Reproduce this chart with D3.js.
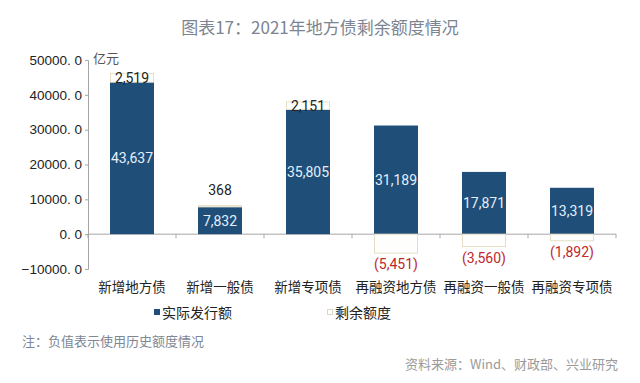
<!DOCTYPE html>
<html><head><meta charset="utf-8">
<script src="https://cdn.jsdelivr.net/npm/d3@7"></script>
<style>
body{margin:0;background:#fff;}
svg{display:block;}
</style></head>
<body>
<svg id="c" width="640" height="383"></svg>
<script>
const categories = ["新增地方债","新增一般债","新增专项债","再融资地方债","再融资一般债","再融资专项债"];
const issued = [43637, 7832, 35805, 31189, 17871, 13319];
const remaining = [2519, 368, 2151, -5451, -3560, -1892];
const yTicks = [-10000, 0, 10000, 20000, 30000, 40000, 50000];
const seriesNames = ["实际发行额","剩余额度"];

const svg = d3.select("#c");
const cjk = "'Noto Sans CJK SC','Noto Sans',sans-serif";
const num = "Roboto,'Noto Sans',sans-serif";
const blue = "#1f4e79";

const x = d3.scaleBand().domain(categories).range([88, 616]).paddingInner(0.5).paddingOuter(0.25);
const y = d3.scaleLinear().domain([-10000, 50000]).range([269, 60]);

// title
svg.append("text").attr("x", 320).attr("y", 34).attr("text-anchor","middle")
  .attr("font-family", cjk).attr("font-size", 17).attr("fill", "#7b8591")
  .text("图表17：2021年地方债剩余额度情况");

// y axis
const yAxis = d3.axisLeft(y).tickValues(yTicks).tickSize(3)
  .tickFormat(d => d3.format(".1f")(d).replace(".", ". ").replace("-", "−"));
const ga = svg.append("g").attr("transform","translate(88,0)").call(yAxis);
ga.select(".domain").attr("stroke","#a6a6a6");
ga.selectAll(".tick line").attr("stroke","#a6a6a6");
ga.selectAll(".tick text").attr("font-family","'Liberation Sans',Arial,sans-serif")
  .attr("font-size", 13.5).attr("fill","#222").attr("x", -6).style("white-space","pre");

// x axis at zero
const bounds = categories.map(c => x(c) - x.step()*x.paddingInner()/2);
bounds.push(616);
svg.append("line").attr("x1",88).attr("x2",616).attr("y1",y(0)).attr("y2",y(0)).attr("stroke","#a6a6a6");
svg.selectAll(".xt").data(bounds).join("line").attr("class","xt")
  .attr("x1", d=>d).attr("x2", d=>d).attr("y1", y(0)).attr("y2", y(0)+4).attr("stroke","#a6a6a6");

// issued bars
svg.selectAll(".bi").data(categories).join("rect").attr("class","bi")
  .attr("x", d=>x(d)).attr("width", x.bandwidth())
  .attr("y", (d,i)=>y(issued[i])).attr("height", (d,i)=>y(0)-y(issued[i]))
  .attr("fill", blue);

// remaining bars
svg.selectAll(".br").data(categories).join("rect").attr("class","br")
  .attr("x", d=>x(d)+0.5).attr("width", x.bandwidth()-1)
  .attr("y", (d,i)=> remaining[i] >= 0 ? y(issued[i]+remaining[i]) : y(0))
  .attr("height", (d,i)=> remaining[i] >= 0 ? y(issued[i]) - y(issued[i]+remaining[i]) : y(remaining[i]) - y(0))
  .attr("fill", "#fefefc").attr("stroke", "#e6dfc8").attr("stroke-width", 1);

// issued labels
svg.selectAll(".li").data(categories).join("text").attr("class","li")
  .attr("x", d=>x(d)+x.bandwidth()/2)
  .attr("y", (d,i)=> (y(0)+y(issued[i]))/2 + 5)
  .attr("text-anchor","middle").attr("font-family", num)
  .attr("font-size", 14).attr("fill","#e4eefa")
  .text((d,i)=>d3.format(",")(issued[i]));

// remaining labels
const fmtR = v => v < 0 ? "(" + d3.format(",")(-v) + ")" : d3.format(",")(v);
svg.selectAll(".lr").data(categories).join("text").attr("class","lr")
  .attr("x", d=>x(d)+x.bandwidth()/2)
  .attr("y", (d,i)=> {
    const v = remaining[i];
    if (v < 0) return y(v) + 16;
    const top = y(issued[i]+v), h = y(issued[i]) - top;
    return h < 6 ? top - 11 : top + h/2 + 5;
  })
  .attr("text-anchor","middle").attr("font-family", num)
  .attr("font-size", 14).attr("fill", (d,i)=> remaining[i] < 0 ? "#c0272d" : "#222")
  .text((d,i)=>fmtR(remaining[i]));

// unit
svg.append("text").attr("x", 93).attr("y", 63).attr("font-family", cjk)
  .attr("font-size", 13).attr("fill","#555").text("亿元");

// category labels
svg.selectAll(".cl").data(categories).join("text").attr("class","cl")
  .attr("x", d=>x(d)+x.bandwidth()/2).attr("y", 292).attr("text-anchor","middle")
  .attr("font-family", cjk).attr("font-size", 13.5).attr("fill","#222").text(d=>d);

// legend
const leg = [{x:154, fill:blue, stroke:blue},{x:327, fill:"#fefefc", stroke:"#e0d8bd"}];
leg.forEach((l,i)=>{
  svg.append("rect").attr("x", l.x+0.5).attr("y", 309.5).attr("width",5).attr("height",5)
    .attr("fill", l.fill).attr("stroke", l.stroke);
  svg.append("text").attr("x", l.x+8).attr("y", 318).attr("font-family", cjk)
    .attr("font-size", 14).attr("fill","#222").text(seriesNames[i]);
});

// notes
svg.append("text").attr("x", 22).attr("y", 346).attr("font-family", cjk)
  .attr("font-size", 13).attr("fill","#7d8795").text("注：负值表示使用历史额度情况");
svg.append("text").attr("x", 618).attr("y", 369).attr("text-anchor","end").attr("font-family", cjk)
  .attr("font-size", 13).attr("fill","#9a9a9a").text("资料来源：Wind、财政部、兴业研究");
</script>
</body></html>
